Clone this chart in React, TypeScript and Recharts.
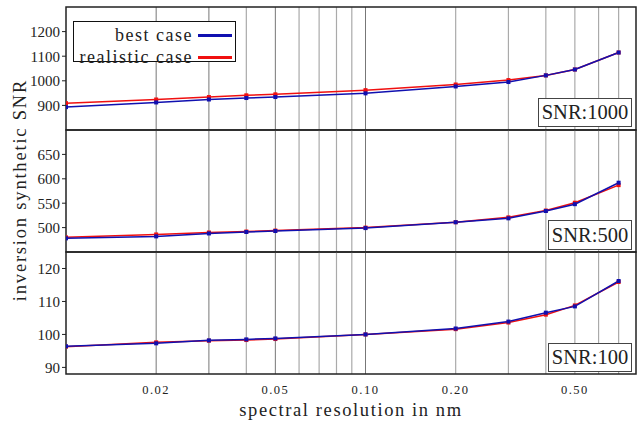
import React from "react";
import {
  LineChart,
  Line,
  XAxis,
  YAxis,
  CartesianGrid,
  ReferenceArea,
} from "recharts";

// spectral resolution in nm (log axis)
const resolution = [0.01, 0.02, 0.03, 0.04, 0.05, 0.1, 0.2, 0.3, 0.4, 0.5, 0.7];

const best1000 = [893, 912, 924, 930, 934, 949, 977, 995, 1022, 1046, 1115];
const real1000 = [909, 924, 934, 941, 945, 962, 985, 1003, 1022, 1046, 1115];

const best500 = [478, 482, 488, 491, 493, 499, 511, 519, 534, 548, 592];
const real500 = [480, 486, 490, 492, 494, 500, 511, 521, 535, 551, 587];

const best100 = [96.4, 97.3, 98.2, 98.5, 98.8, 100, 101.8, 103.9, 106.6, 108.5, 116.2];
const real100 = [96.3, 97.6, 98.1, 98.3, 98.6, 100, 101.6, 103.6, 106.0, 108.8, 115.9];

const xTicks = [0.02, 0.05, 0.1, 0.2, 0.5];
const gridDark = [0.02, 0.03, 0.05, 0.1];
const gridLight = [0.04, 0.06, 0.07, 0.08, 0.09, 0.2, 0.3, 0.4, 0.5, 0.6, 0.7];
const xDomain = [0.01, 0.8];

const ticks1000 = [900, 1000, 1100, 1200];
const ticks500 = [500, 550, 600, 650];
const ticks100 = [90, 100, 110, 120];

const FONT = '"Liberation Serif", "Times New Roman", serif';
const BLUE = "#1010b0";
const RED = "#f01010";
const INK = "#222";

function squareDot(color: string) {
  return (props: any) => {
    const { cx, cy, index } = props;
    if (cx == null || cy == null) return null;
    return <rect key={index} x={cx - 2} y={cy - 2} width={4} height={4} fill={color} />;
  };
}

const noTick = () => <g />;

interface PanelProps {
  best: number[];
  real: number[];
  domain: [number, number];
  yTicks: number[];
  top: number;
  height: number;
  margin: { top: number; right: number; bottom: number; left: number };
  bottomAxis?: boolean;
  snr: string;
  snrBox: { left: number; top: number; width: number; height: number };
}

function Panel({ best, real, domain, yTicks, top, height, margin, bottomAxis, snr, snrBox }: PanelProps) {
  const data = resolution.map((r, i) => ({ res: r, best: best[i], real: real[i] }));
  return (
    <>
      <div style={{ position: "absolute", left: 0, top }}>
        <LineChart width={638} height={height} data={data} margin={margin}>
          <CartesianGrid horizontal={false} verticalValues={gridLight} stroke="#aaa" strokeWidth={1.2} />
          <CartesianGrid horizontal={false} verticalValues={gridDark} stroke="#777" strokeWidth={1} />
          <XAxis
            dataKey="res"
            type="number"
            scale="log"
            domain={xDomain}
            allowDataOverflow
            ticks={xTicks}
            interval={0}
            height={bottomAxis ? 50 : 0}
            axisLine={false}
            tickLine={false}
            tick={bottomAxis ? { fontSize: 12.5, fill: INK, fontFamily: FONT, letterSpacing: 1.5 } : noTick}
            tickMargin={5}
            tickFormatter={(v: number) => v.toFixed(2)}
          />
          <YAxis
            type="number"
            domain={domain}
            allowDataOverflow
            ticks={yTicks}
            interval={0}
            width={66}
            axisLine={false}
            tickLine={{ stroke: INK }}
            tickSize={4}
            tickMargin={2}
            tick={{ fontSize: 15, fill: INK, fontFamily: FONT }}
          />
          <ReferenceArea
            x1={xDomain[0]}
            x2={xDomain[1]}
            y1={domain[0]}
            y2={domain[1]}
            fill="none"
            stroke={INK}
            strokeWidth={1.5}
          />
          <Line
            dataKey="real"
            stroke={RED}
            strokeWidth={1.5}
            dot={squareDot(RED)}
            isAnimationActive={false}
          />
          <Line
            dataKey="best"
            stroke={BLUE}
            strokeWidth={1.5}
            dot={squareDot(BLUE)}
            isAnimationActive={false}
          />
        </LineChart>
      </div>
      <div
        style={{
          position: "absolute",
          left: snrBox.left,
          top: snrBox.top,
          width: snrBox.width,
          height: snrBox.height,
          boxSizing: "border-box",
          border: "1px solid #444",
          background: "#fff",
          fontFamily: FONT,
          fontSize: 20.5,
          color: INK,
          display: "flex",
          alignItems: "center",
          justifyContent: "center",
        }}
      >
        {snr}
      </div>
    </>
  );
}

function LegendBox() {
  const row = (label: string, color: string) => (
    <div
      style={{
        display: "flex",
        alignItems: "center",
        justifyContent: "flex-end",
        height: 22,
        whiteSpace: "nowrap",
      }}
    >
      <span style={{ letterSpacing: 1.5 }}>{label}</span>
      <span style={{ display: "inline-block", width: 34, height: 3, background: color, marginLeft: 5, flexShrink: 0 }} />
    </div>
  );
  return (
    <div
      style={{
        position: "absolute",
        left: 73,
        top: 21,
        width: 163,
        height: 41,
        boxSizing: "border-box",
        border: "1px solid #111",
        background: "#fff",
        fontFamily: FONT,
        fontSize: 18,
        color: INK,
        paddingRight: 3,
        paddingTop: 2,
        lineHeight: "20px",
      }}
    >
      {row("best case", BLUE)}
      {row("realistic case", RED)}
    </div>
  );
}

export default function App() {
  return (
    <div
      style={{
        position: "absolute",
        left: 0,
        top: 0,
        width: 638,
        height: 424,
        background: "#fff",
        overflow: "hidden",
      }}
    >
      <Panel
        best={best1000}
        real={real1000}
        domain={[800, 1300]}
        yTicks={ticks1000}
        top={0}
        height={131}
        margin={{ top: 7, right: 2, bottom: 1, left: 0 }}
        snr="SNR:1000"
        snrBox={{ left: 538, top: 98, width: 94, height: 29 }}
      />
      <Panel
        best={best500}
        real={real500}
        domain={[450, 700]}
        yTicks={ticks500}
        top={129}
        height={124}
        margin={{ top: 1, right: 2, bottom: 1, left: 0 }}
        snr="SNR:500"
        snrBox={{ left: 548, top: 220, width: 84, height: 30 }}
      />
      <Panel
        best={best100}
        real={real100}
        domain={[88, 125]}
        yTicks={ticks100}
        top={251}
        height={173}
        margin={{ top: 1, right: 2, bottom: 0, left: 0 }}
        bottomAxis
        snr="SNR:100"
        snrBox={{ left: 548, top: 343, width: 84, height: 29 }}
      />
      <LegendBox />
      <div
        style={{
          position: "absolute",
          left: 20,
          top: 190,
          transform: "translate(-50%, -50%) rotate(-90deg)",
          whiteSpace: "nowrap",
          fontFamily: FONT,
          fontSize: 18.5,
          letterSpacing: 1.8,
          color: INK,
        }}
      >
        inversion synthetic SNR
      </div>
      <div
        style={{
          position: "absolute",
          left: 351,
          top: 410,
          transform: "translate(-50%, -50%)",
          whiteSpace: "nowrap",
          fontFamily: FONT,
          fontSize: 18.5,
          letterSpacing: 1.6,
          color: INK,
        }}
      >
        spectral resolution in nm
      </div>
    </div>
  );
}
